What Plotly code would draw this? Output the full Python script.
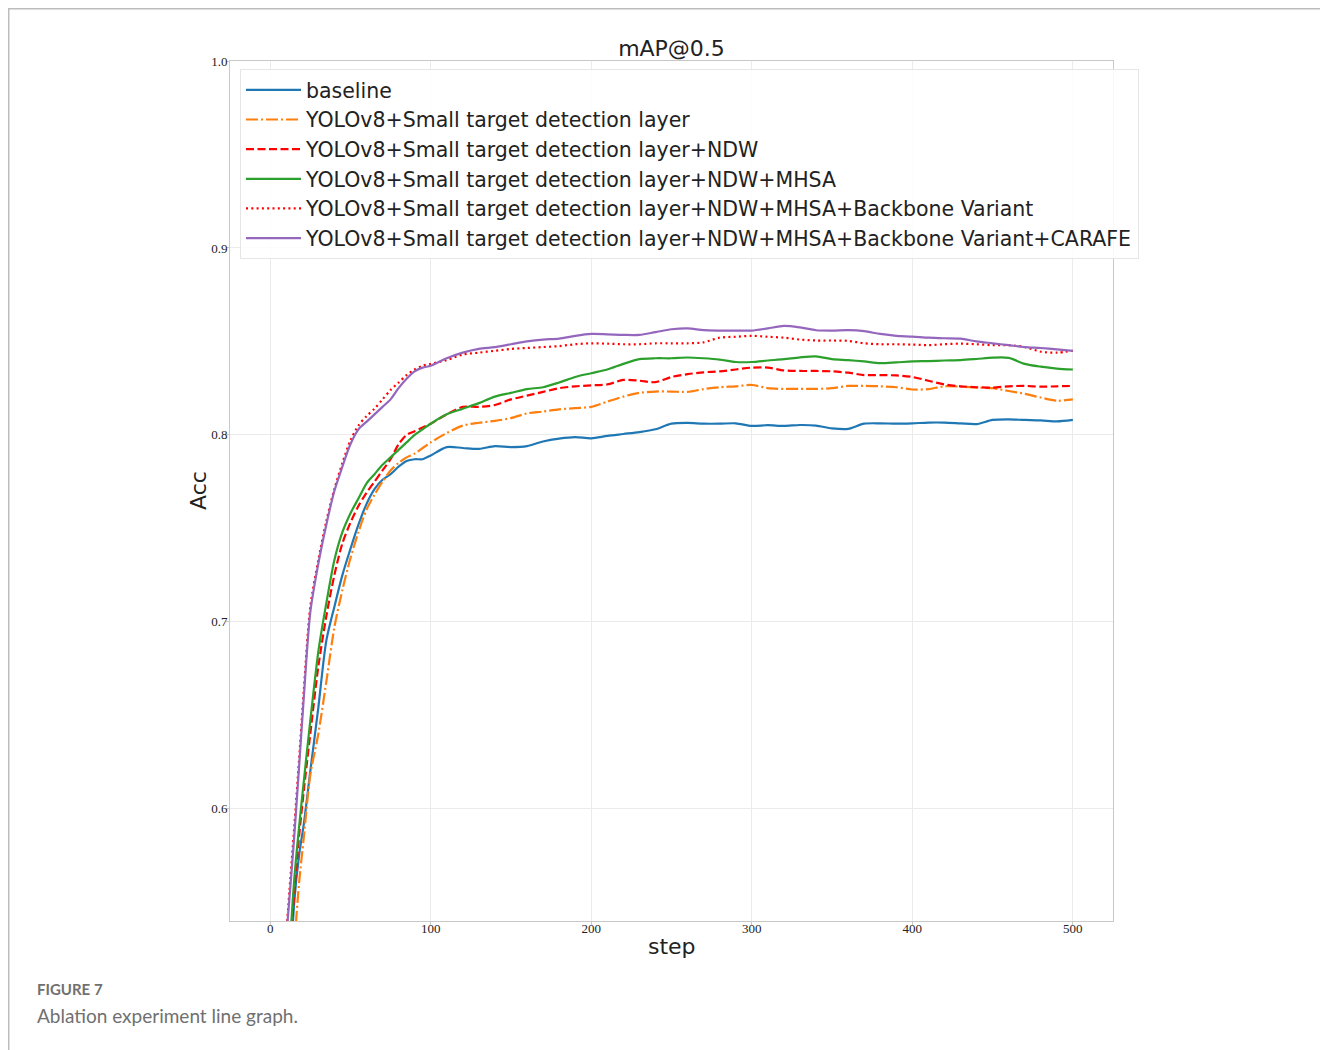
import plotly.graph_objects as go

steps = [9, 12, 15, 18, 21, 25, 30, 35, 40, 45, 50, 55, 60, 65, 70, 75, 80, 85, 90, 95, 100,
         110, 120, 130, 140, 150, 160, 170, 180, 190, 200, 210, 220, 230, 240, 250, 260, 270,
         280, 290, 300, 310, 320, 330, 340, 350, 360, 370, 380, 390, 400, 410, 420, 430, 440,
         450, 460, 470, 480, 490, 500]

baseline = [0.42, 0.50, 0.550, 0.575, 0.592, 0.620, 0.654, 0.690, 0.708, 0.725, 0.739, 0.752,
            0.763, 0.771, 0.776, 0.779, 0.783, 0.786, 0.787, 0.787, 0.789,
            0.7935, 0.793, 0.7925, 0.794, 0.7935, 0.794, 0.7965, 0.798, 0.7988, 0.7982, 0.7995,
            0.8005, 0.8015, 0.803, 0.806, 0.8064, 0.806, 0.806, 0.8062, 0.8048, 0.8052, 0.8048,
            0.8053, 0.805, 0.8035, 0.8032, 0.806, 0.8062, 0.806, 0.8062, 0.8066, 0.8066, 0.8062,
            0.8058, 0.808, 0.8083, 0.808, 0.8078, 0.8072, 0.808]

small_target = [0.40, 0.47, 0.525, 0.560, 0.585, 0.618, 0.640, 0.668, 0.697, 0.717, 0.734, 0.748,
                0.760, 0.768, 0.775, 0.781, 0.785, 0.788, 0.790, 0.793, 0.796,
                0.801, 0.805, 0.8065, 0.8075, 0.809, 0.8115, 0.8125, 0.8137, 0.8143, 0.815, 0.8178,
                0.8205, 0.8225, 0.8232, 0.8232, 0.823, 0.8245, 0.8255, 0.826, 0.8267, 0.825, 0.8246,
                0.8246, 0.8246, 0.825, 0.8262, 0.8262, 0.826, 0.8255, 0.8243, 0.8245, 0.826, 0.8258,
                0.8253, 0.825, 0.8235, 0.822, 0.820, 0.8183, 0.819]

ndw = [0.45, 0.515, 0.555, 0.585, 0.610, 0.640, 0.676, 0.703, 0.725, 0.742, 0.753, 0.762,
       0.769, 0.775, 0.781, 0.787, 0.795, 0.800, 0.802, 0.804, 0.806,
       0.811, 0.815, 0.815, 0.816, 0.819, 0.821, 0.823, 0.825, 0.826, 0.8265, 0.827,
       0.8294, 0.829, 0.8282, 0.831, 0.8325, 0.8335, 0.834, 0.835, 0.836, 0.836, 0.8345,
       0.8342, 0.8342, 0.834, 0.8333, 0.832, 0.832, 0.8318, 0.831, 0.829, 0.827, 0.826,
       0.8255, 0.8253, 0.826, 0.8262, 0.8258, 0.826, 0.8262]

mhsa = [0.45, 0.52, 0.562, 0.590, 0.615, 0.647, 0.684, 0.710, 0.733, 0.748, 0.758, 0.766,
        0.774, 0.779, 0.784, 0.788, 0.792, 0.796, 0.800, 0.803, 0.806,
        0.811, 0.814, 0.817, 0.8205, 0.8225, 0.8245, 0.8255, 0.828, 0.831, 0.833, 0.835,
        0.838, 0.8405, 0.841, 0.841, 0.8414, 0.841, 0.8403, 0.839, 0.839, 0.8398, 0.8405,
        0.8415, 0.842, 0.8405, 0.840, 0.8393, 0.8384, 0.8388, 0.8393, 0.8395, 0.8398, 0.840,
        0.8406, 0.8413, 0.8412, 0.838, 0.8365, 0.8355, 0.835]

backbone = [0.52, 0.556, 0.590, 0.626, 0.664, 0.708, 0.733, 0.754, 0.771, 0.785, 0.797, 0.805,
            0.810, 0.814, 0.819, 0.824, 0.828, 0.832, 0.835, 0.837, 0.838,
            0.840, 0.843, 0.844, 0.845, 0.846, 0.8465, 0.847, 0.8475, 0.8485, 0.849, 0.8488,
            0.8485, 0.8485, 0.849, 0.849, 0.849, 0.8495, 0.852, 0.8525, 0.853, 0.8525, 0.852,
            0.851, 0.8505, 0.8505, 0.8503, 0.849, 0.8485, 0.8485, 0.8483, 0.848, 0.8485, 0.8488,
            0.8485, 0.848, 0.848, 0.847, 0.8445, 0.844, 0.845]

carafe = [0.52, 0.552, 0.585, 0.622, 0.660, 0.705, 0.731, 0.752, 0.770, 0.783, 0.795, 0.803,
          0.807, 0.811, 0.815, 0.819, 0.825, 0.830, 0.834, 0.836, 0.837,
          0.841, 0.844, 0.846, 0.847, 0.8485, 0.850, 0.851, 0.8515, 0.853, 0.854, 0.8538,
          0.8535, 0.8535, 0.855, 0.8565, 0.857, 0.856, 0.8558, 0.8558, 0.8558, 0.857, 0.8583,
          0.8575, 0.856, 0.8558, 0.856, 0.8555, 0.854, 0.853, 0.8526, 0.852, 0.8517, 0.8515,
          0.850, 0.849, 0.848, 0.847, 0.8465, 0.8458, 0.845]

names = ["baseline",
         "YOLOv8+Small target detection layer",
         "YOLOv8+Small target detection layer+NDW",
         "YOLOv8+Small target detection layer+NDW+MHSA",
         "YOLOv8+Small target detection layer+NDW+MHSA+Backbone Variant",
         "YOLOv8+Small target detection layer+NDW+MHSA+Backbone Variant+CARAFE"]
series = [baseline, small_target, ndw, mhsa, backbone, carafe]
colors = ["#1f77b4", "#ff7f0e", "#ff0000", "#2ca02c", "#ff0000", "#9467bd"]
dashes = ["solid", "12px,3px,2px,3px", "8px,3.5px", "solid", "2px,3.3px", "solid"]

x_ticks = [0, 100, 200, 300, 400, 500]
y_ticks = [0.6, 0.7, 0.8, 0.9, 1.0]

fig = go.Figure()
for name, vals, col, dsh in zip(names, series, colors, dashes):
    fig.add_trace(go.Scatter(
        x=steps, y=vals, name=name, mode="lines",
        line=dict(color=col, width=2.2, dash=dsh, shape="spline", smoothing=0.8),
    ))

# page body adds an 8px offset; work in reference pixel coords minus 8
OFF = 8
W, H = 1328 - OFF, 1050 - OFF
L, R, T, B = 230 - OFF, 1113 - OFF, 61 - OFF, 921 - OFF
pw, ph = R - L, B - T


def px_x(p):
    return (p - OFF - L) / pw


def px_y(p):
    return (B - (p - OFF)) / ph


def fx(p):
    # figure pixel -> paper x
    return (p - L) / pw


def fy(p):
    return (B - p) / ph


fig.update_layout(
    width=W, height=H,
    margin=dict(l=L, r=W - R, t=T, b=H - B),
    paper_bgcolor="white", plot_bgcolor="white",
    showlegend=True,
    title=dict(text="mAP@0.5", x=(L + R) / 2 / W, xanchor="center",
               y=1 - (48 - OFF) / H, yanchor="middle",
               font=dict(family="DejaVu Sans", size=22, color="#222")),
    legend=dict(x=px_x(240), y=px_y(69), xanchor="left", yanchor="top",
                font=dict(family="DejaVu Sans", size=20.5, color="#222"),
                bgcolor="rgba(255,255,255,0.85)", bordercolor="#e6e6e6", borderwidth=1,
                itemwidth=55, tracegroupgap=0),
    xaxis=dict(range=[-25, 525], tickvals=x_ticks, ticktext=[str(v) for v in x_ticks],
               showgrid=True, gridcolor="#ebebeb", gridwidth=1, zeroline=False,
               showline=True, linecolor="#c8c8c8", linewidth=1, mirror=True,
               ticks="outside", ticklen=3, tickcolor="#c8c8c8", ticklabelstandoff=-8,
               tickfont=dict(family="Liberation Serif", size=13, color="#222")),
    yaxis=dict(range=[0.54, 1.0], tickvals=y_ticks, ticktext=["%.1f" % v for v in y_ticks],
               showgrid=True, gridcolor="#ebebeb", gridwidth=1, zeroline=False,
               showline=True, linecolor="#c8c8c8", linewidth=1, mirror=True,
               ticks="outside", ticklen=3, tickcolor="#c8c8c8", ticklabelstandoff=-4,
               tickfont=dict(family="Liberation Serif", size=13, color="#222")),
)

fig.add_annotation(text="step", xref="paper", yref="paper", x=px_x(672), y=px_y(946),
                   xanchor="center", yanchor="middle", showarrow=False,
                   font=dict(family="DejaVu Sans", size=22, color="#222"))
fig.add_annotation(text="Acc", xref="paper", yref="paper", x=px_x(198), y=px_y(491),
                   xanchor="center", yanchor="middle", showarrow=False, textangle=-90,
                   font=dict(family="DejaVu Sans", size=22, color="#222"))

# outer page frame (as close to the page edge as the figure allows)
fig.add_shape(type="rect", xref="paper", yref="paper",
              x0=fx(0.75), x1=fx(W - 1.0), y0=fy(H + 20), y1=fy(0.75),
              line=dict(color="#bdbdbd", width=1.5), fillcolor="rgba(0,0,0,0)", layer="below")

fig.add_annotation(text="<b>FIGURE 7</b>", xref="paper", yref="paper",
                   x=px_x(35), y=px_y(989), xanchor="left", yanchor="middle", showarrow=False,
                   font=dict(family="Lato", size=15, color="#707070"))
fig.add_annotation(text="Ablation experiment line graph.", xref="paper", yref="paper",
                   x=px_x(35), y=px_y(1015), xanchor="left", yanchor="middle", showarrow=False,
                   font=dict(family="Lato", size=19, color="#707070"))

fig.write_html("out.html")
